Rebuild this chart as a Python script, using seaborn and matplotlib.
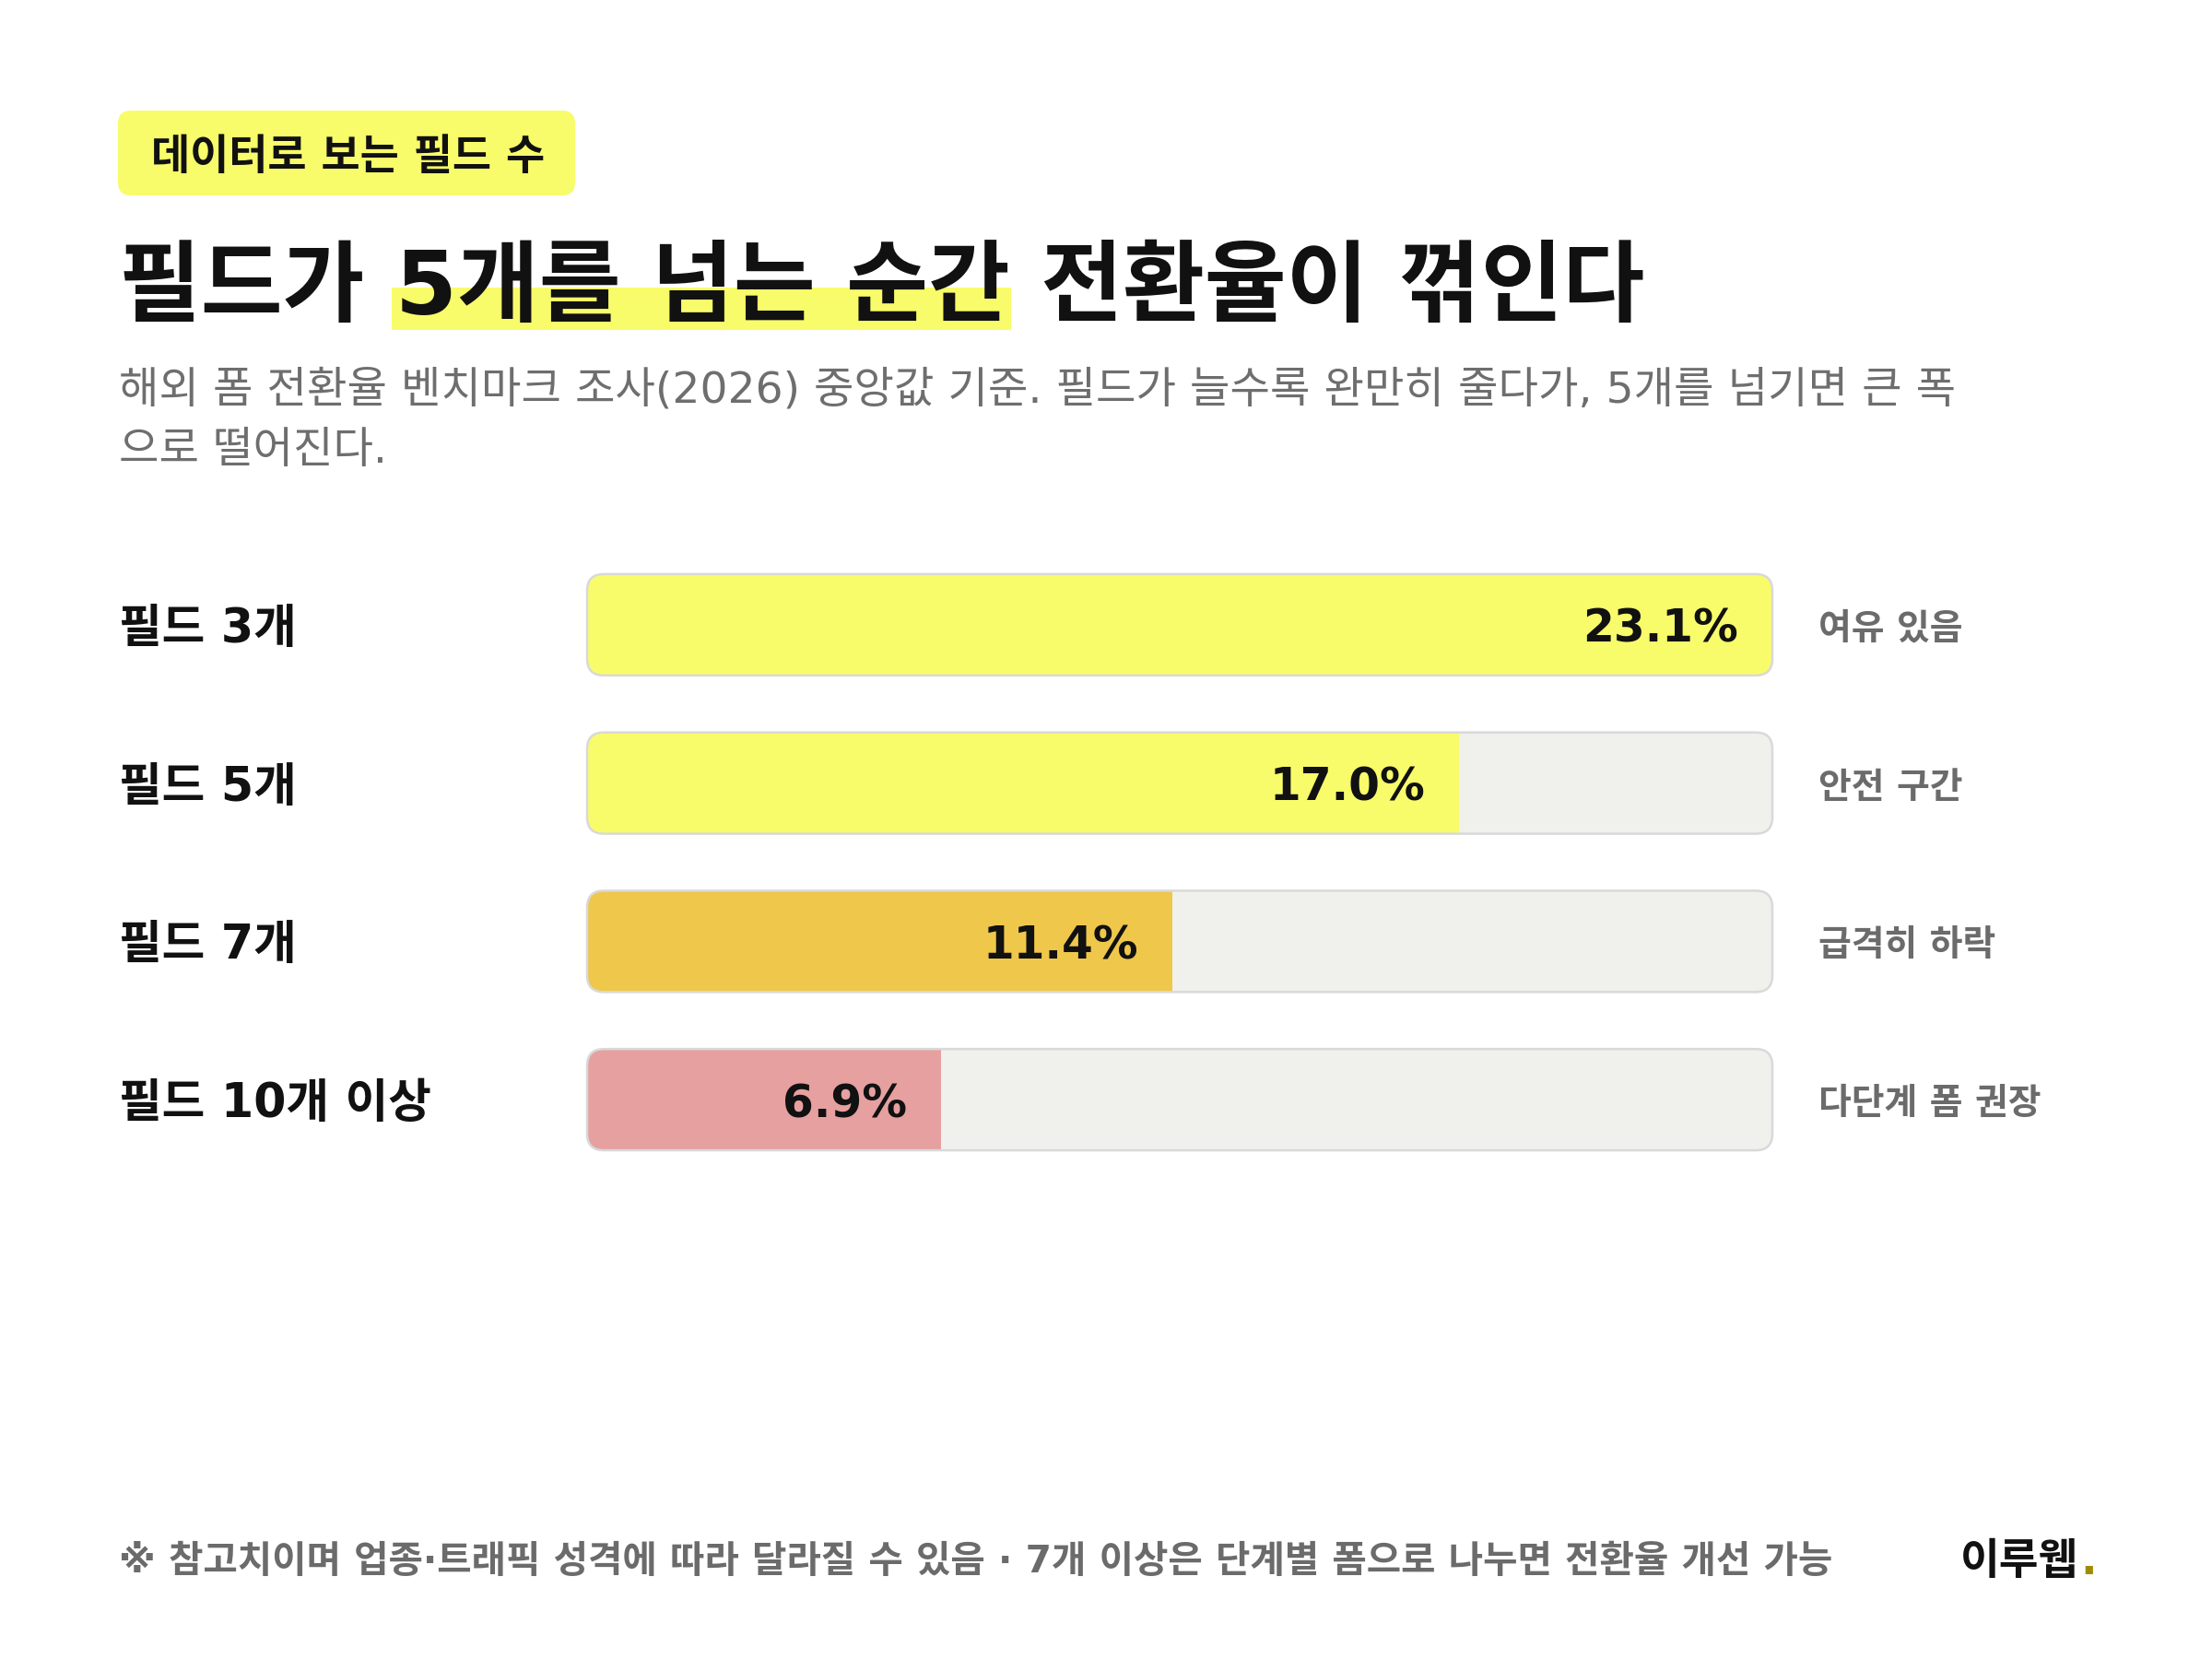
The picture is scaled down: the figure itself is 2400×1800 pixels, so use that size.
import matplotlib
matplotlib.use("Agg")
import matplotlib.pyplot as plt
import matplotlib.transforms as mtransforms
from matplotlib.patches import FancyBboxPatch, Rectangle
import seaborn as sns

labels = ["필드 3개", "필드 5개", "필드 7개", "필드 10개 이상"]
rates = [23.1, 17.0, 11.4, 6.9]
notes = ["여유 있음", "안전 구간", "급격히 하락", "다단계 폼 권장"]
bar_colors = ["#f8fc6a", "#f8fc6a", "#efc74a", "#e6a0a0"]
scale_max = max(rates)

W, H = 2400, 1800
PX = mtransforms.IdentityTransform()


def fx(px):
    return px / W


def fy(py):
    return 1 - py / H


sns.set_theme(style="white")
plt.rcParams["font.family"] = ["DejaVu Sans", "Noto Sans CJK KR"]

fig = plt.figure(figsize=(24, 18), dpi=100)
fig.patch.set_facecolor("white")
renderer = fig.canvas.get_renderer()

# bars
ax = fig.add_axes([fx(637), fy(1279), 1286 / W, 687 / H])
sns.barplot(x=rates, y=labels, hue=labels, palette=bar_colors, legend=False,
            orient="h", width=0.64, saturation=1, ax=ax)
ax.set_xlim(0, scale_max)
ax.set_ylim(3.5, -0.5)
ax.axis("off")

for p in list(ax.patches):
    (x0, ya) = ax.transData.transform((0, p.get_y()))
    (x1, yb) = ax.transData.transform((scale_max, p.get_y() + p.get_height()))
    y0, y1 = min(ya, yb), max(ya, yb)
    track = FancyBboxPatch((x0, y0), x1 - x0, y1 - y0,
                           boxstyle="round,pad=0,rounding_size=18",
                           transform=PX, facecolor="#f0f0ec", edgecolor="none",
                           zorder=0.5, clip_on=False)
    ax.add_artist(track)
    p.set_zorder(1)
    p.set_edgecolor("none")
    p.set_clip_path(track)
    border = FancyBboxPatch((x0, y0), x1 - x0, y1 - y0,
                            boxstyle="round,pad=0,rounding_size=18",
                            transform=PX, facecolor="none", edgecolor="#d9d9d9",
                            linewidth=1.8, zorder=2, clip_on=False)
    ax.add_artist(border)

val_tr = mtransforms.offset_copy(ax.transData, fig=fig, x=-37, y=-5, units="dots")
note_tr = mtransforms.offset_copy(ax.transData, fig=fig, x=50, y=-5, units="dots")
lab_tr = mtransforms.offset_copy(
    mtransforms.blended_transform_factory(fig.transFigure, ax.transData),
    fig=fig, x=0, y=-5, units="dots")

for i, (lab, v, note) in enumerate(zip(labels, rates, notes)):
    ax.text(v, i, f"{v:.1f}%", transform=val_tr, ha="right", va="center",
            fontsize=35, fontweight="bold", color="#111111", zorder=3)
    ax.text(scale_max, i, note, transform=note_tr, ha="left", va="center",
            fontsize=28, fontweight="bold", color="#6b6b6b", clip_on=False)
    ax.text(fx(129), i, lab, transform=lab_tr, ha="left", va="center",
            fontsize=36.5, fontweight="bold", color="#111111", clip_on=False)

# badge
badge = FancyBboxPatch((128, H - 212), 496, 92,
                       boxstyle="round,pad=0,rounding_size=14",
                       transform=PX, facecolor="#f8fc6a", edgecolor="none", zorder=1)
fig.add_artist(badge)
fig.text(fx(164), fy(171), "데이터로 보는 필드 수", ha="left", va="center",
         fontsize=33, fontweight="bold", color="#111111", zorder=3)

# title with highlighted phrase
title = "필드가 5개를 넘는 순간 전환율이 꺾인다"
title_kw = dict(fontsize=69.5, fontweight="bold", color="#111111")


def text_w(s):
    t = fig.text(0, 0, s, **title_kw)
    w = t.get_window_extent(renderer).width
    t.remove()
    return w


hl_x0 = 129 + text_w("필드가 5") - text_w("5") - 4
hl_x1 = 129 + text_w("필드가 5개를 넘는 순간") + 1
fig.add_artist(Rectangle((hl_x0, H - 358), hl_x1 - hl_x0, 46, transform=PX,
                         facecolor="#f8fc6a", edgecolor="none", zorder=1))
fig.text(fx(129), fy(314), title, ha="left", va="center", zorder=3, **title_kw)

fig.text(fx(129), fy(424),
         "해외 폼 전환율 벤치마크 조사(2026) 중앙값 기준. 필드가 늘수록 완만히 줄다가, 5개를 넘기면 큰 폭",
         ha="left", va="center", fontsize=34, color="#6e6e6e")
fig.text(fx(129), fy(490), "으로 떨어진다.",
         ha="left", va="center", fontsize=34, color="#6e6e6e")

# footer
fig.text(fx(129), fy(1695),
         "※ 참고치이며 업종·트래픽 성격에 따라 달라질 수 있음 · 7개 이상은 단계별 폼으로 나누면 전환율 개선 가능",
         ha="left", va="center", fontsize=29.3, fontweight="bold", color="#6b6b6b")
fig.text(fx(2255), fy(1695), "이루웹", ha="right", va="center",
         fontsize=33.5, fontweight="bold", color="#111111")
fig.text(fx(2257), fy(1695), ".", ha="left", va="center",
         fontsize=33.5, fontweight="bold", color="#a08c00")

fig.savefig("out.png", dpi=100, facecolor="white")
